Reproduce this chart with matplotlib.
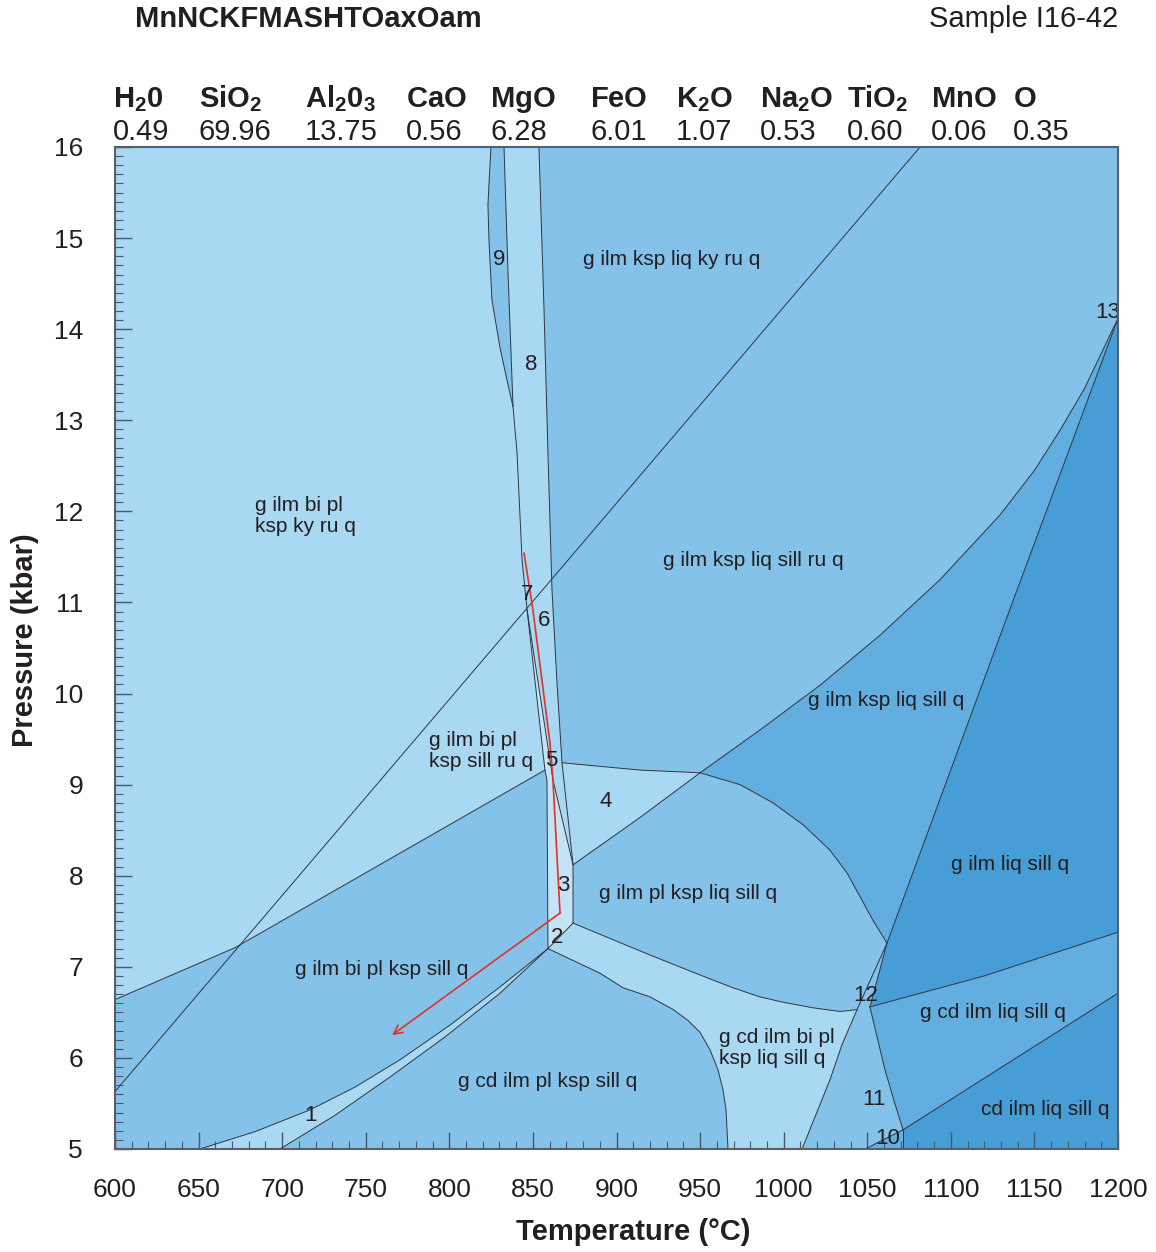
import numpy as np
import matplotlib.pyplot as plt
from matplotlib.ticker import MultipleLocator

plt.rcParams['font.family'] = ['Liberation Sans', 'DejaVu Sans']
plt.rcParams['mathtext.fontset'] = 'custom'
plt.rcParams['mathtext.rm'] = 'Liberation Sans'
plt.rcParams['mathtext.bf'] = 'Liberation Sans:bold'

# field colours
c_light = '#a8d8f2'
c_pale = '#c4e4f5'
c_mid = '#85c2ea'
c_dark = '#63aee0'
c_deep = '#479dd6'
c_line = '#2e3640'
c_text = '#231f20'

# bulk composition (mol %)
oxides = [r'$\mathbf{H_20}$', r'$\mathbf{SiO_2}$', r'$\mathbf{Al_20_3}$', r'$\mathbf{CaO}$',
          r'$\mathbf{MgO}$', r'$\mathbf{FeO}$', r'$\mathbf{K_2O}$', r'$\mathbf{Na_2O}$',
          r'$\mathbf{TiO_2}$', r'$\mathbf{MnO}$', r'$\mathbf{O}$']
amounts = ['0.49', '69.96', '13.75', '0.56', '6.28', '6.01', '1.07', '0.53', '0.60', '0.06', '0.35']
oxide_x = [113, 199, 305, 406, 490, 590, 676, 760, 847, 931, 1013]

# field boundaries, T (°C) and P (kbar)
ky_sill_T = [600, 1081.6]
ky_sill_P = [5.63, 16.0]
ru_out_T = [600, 671.8, 857.2]
ru_out_P = [6.64, 7.21, 9.16]
band_left_T = [832.7, 835.1, 838.1, 840.5, 843.5, 846.5, 857.2, 858.4, 859.0]
band_left_P = [16.0, 14.62, 13.15, 12.64, 11.47, 10.92, 9.16, 9.05, 7.2]
band_right_T = [853.6, 856.6, 859.0, 861.4, 864.4, 867.4, 874.0, 874.0]
band_right_P = [16.0, 14.24, 12.64, 11.14, 10.12, 9.24, 8.12, 7.48]
f9_left_T = [824.9, 823.1, 823.7, 825.5, 830.3, 834.5, 838.1]
f9_left_P = [16.0, 15.37, 14.98, 14.32, 13.80, 13.44, 13.15]
mid_T = [846.5, 862.0, 874.0]
mid_P = [10.92, 9.05, 8.12]
west_T = [859.0, 874.0]
west_P = [7.2, 7.48]
four_top_T = [867.4, 914.1, 950.0]
four_top_P = [9.24, 9.16, 9.13]
four_bot_T = [874.0, 914.1, 950.0]
four_bot_P = [8.12, 8.64, 9.13]
lb_top_T = [874.0, 920.0, 950.0, 969.7, 985.8, 1000.0, 1017.5, 1033.7, 1043.9]
lb_top_P = [7.48, 7.13, 6.91, 6.77, 6.67, 6.61, 6.55, 6.51, 6.53]
lb_bot_T = [859.0, 890.1, 903.9, 920.0, 934.0, 942.8, 950.0, 955.9, 960.7, 963.7, 965.5, 966.7]
lb_bot_P = [7.2, 6.93, 6.77, 6.67, 6.53, 6.41, 6.28, 6.09, 5.87, 5.65, 5.43, 5.0]
l11_T = [1061.8, 1043.9, 1035.0, 1027.7, 1011.0]
l11_P = [7.26, 6.53, 6.15, 5.76, 5.0]
u_T = [950.0, 985.8, 1021.7, 1057.6, 1093.5, 1129.4, 1150.0, 1165.3, 1180.0, 1200]
u_P = [9.13, 9.60, 10.09, 10.64, 11.25, 11.96, 12.45, 12.89, 13.35, 14.12]
arc_T = [950.0, 973.9, 993.6, 1011.6, 1027.7, 1037.9, 1045.7, 1053.4, 1061.8]
arc_P = [9.13, 9.00, 8.80, 8.56, 8.28, 8.03, 7.77, 7.51, 7.26]
dl_T = [1200, 1133.0, 1061.8, 1051.6]
dl_P = [14.12, 10.81, 7.26, 6.56]
db_T = [1051.6, 1120.0, 1200]
db_P = [6.56, 6.90, 7.38]
r11_T = [1051.6, 1056.0, 1060.6, 1066.0, 1071.4]
r11_P = [6.56, 6.22, 5.87, 5.53, 5.21]
cb_T = [1071.4, 1200]
cb_P = [5.21, 6.71]
f10_T = [1048.7, 1071.4, 1071.4]
f10_P = [5.0, 5.21, 5.0]
b1u_T = [650.8, 683.7, 716.7, 743.6, 770.5, 800.4, 830.3, 859.0]
b1u_P = [5.0, 5.19, 5.43, 5.68, 5.98, 6.36, 6.78, 7.2]
b1l_T = [698.7, 731.6, 764.5, 797.4, 830.3, 859.0]
b1l_P = [5.0, 5.37, 5.79, 6.23, 6.71, 7.2]

# P-T path
path_T = [844.7, 850.0, 860.2, 862.0, 866.2, 765.7]
path_P = [11.54, 10.92, 9.46, 9.05, 7.59, 6.25]

fields = [
    ('g ilm ksp liq ky ru q', 933.2, 14.76, 'center'),
    ('g ilm bi pl\nksp ky ru q', 683.7, 11.95, 'left'),
    ('g ilm ksp liq sill ru q', 981.7, 11.46, 'center'),
    ('g ilm ksp liq sill q', 1061.2, 9.92, 'center'),
    ('g ilm bi pl\nksp sill ru q', 787.8, 9.37, 'left'),
    ('g ilm liq sill q', 1135.4, 8.12, 'center'),
    ('g ilm pl ksp liq sill q', 942.8, 7.81, 'center'),
    ('g ilm bi pl ksp sill q', 759.7, 6.97, 'center'),
    ('g cd ilm bi pl\nksp liq sill q', 961.3, 6.11, 'left'),
    ('g cd ilm liq sill q', 1125.2, 6.50, 'center'),
    ('g cd ilm pl ksp sill q', 859.0, 5.74, 'center'),
    ('cd ilm liq sill q', 1156.3, 5.43, 'center'),
]
small = [('9', 829.7, 14.76), ('8', 848.9, 13.61), ('7', 846.5, 11.09), ('6', 856.6, 10.80),
         ('5', 860.8, 9.26), ('4', 893.7, 8.81), ('3', 868.0, 7.89), ('2', 864.4, 7.32),
         ('1', 717.2, 5.37), ('13', 1194.0, 14.18), ('12', 1049.2, 6.69), ('11', 1054.0, 5.54),
         ('10', 1062.4, 5.12)]


def pts(*segs):
    # join (T, P) pieces into one polygon outline
    out = []
    for T, P in segs:
        out += list(zip(T, P))
    return np.array(out)


def rev(T, P):
    return T[::-1], P[::-1]


fig = plt.figure(figsize=(11.56, 12.52), dpi=100)
ax = fig.add_axes([115/1156, 1-1149/1252, 1003/1156, 1002/1252])
ax.set_facecolor(c_light)
ax.set_xlim(600, 1200)
ax.set_ylim(5, 16)

polys = [
    (pts((ru_out_T, ru_out_P), (band_left_T[6:], band_left_P[6:]), (lb_bot_T, lb_bot_P),
         ([600], [5.0])), c_mid),
    (pts((band_right_T, band_right_P), ([874.0, 1200, 1200], [5.0, 5.0, 16.0])), c_mid),
    (pts((f9_left_T, f9_left_P), rev(band_left_T[:3], band_left_P[:3])), c_mid),
    (pts((band_left_T[5:], band_left_P[5:]), ([874.0, 874.0], [7.48, 8.12]), rev(mid_T, mid_P)), c_pale),
    (pts((band_right_T[5:7], band_right_P[5:7]), (four_bot_T, four_bot_P), rev(four_top_T, four_top_P)), c_light),
    (pts((west_T, west_P), (lb_top_T, lb_top_P), (l11_T[1:], l11_P[1:]), rev(lb_bot_T, lb_bot_P)), c_light),
    (pts((b1u_T, b1u_P), rev(b1l_T, b1l_P)), c_light),
    (pts((u_T, u_P), (dl_T[:3], dl_P[:3]), rev(arc_T, arc_P)), c_dark),
    (pts((dl_T, dl_P), (db_T[1:], db_P[1:])), c_deep),
    (pts((db_T, db_P), ([1200], [6.71]), rev(cb_T, cb_P), rev(r11_T, r11_P)), c_dark),
    (pts((cb_T, cb_P), ([1200, 1071.4], [5.0, 5.0])), c_deep),
    (pts((f10_T, f10_P)), c_dark),
]
for xy, col in polys:
    ax.fill(xy[:, 0], xy[:, 1], color=col, lw=0, zorder=1)

lines = [(ky_sill_T, ky_sill_P), (ru_out_T, ru_out_P), (band_left_T, band_left_P),
         (band_right_T, band_right_P), (f9_left_T, f9_left_P), (mid_T, mid_P), (west_T, west_P),
         (four_top_T, four_top_P), (four_bot_T, four_bot_P), (lb_top_T, lb_top_P),
         (lb_bot_T, lb_bot_P), (l11_T, l11_P), (u_T, u_P), (arc_T, arc_P), (dl_T, dl_P),
         (db_T, db_P), (r11_T, r11_P), (cb_T, cb_P), (f10_T[:2], f10_P[:2]), (f10_T[1:], f10_P[1:]),
         (b1u_T, b1u_P), (b1l_T, b1l_P)]
for T, P in lines:
    ax.plot(T, P, color=c_line, lw=0.7, zorder=2, solid_joinstyle='round')

# P-T path
red = '#e0322c'
ax.plot(path_T[:-1], path_P[:-1], color=red, lw=1.2, zorder=3)
ax.annotate('', xy=(path_T[-1], path_P[-1]), xytext=(path_T[-2], path_P[-2]),
            arrowprops=dict(arrowstyle='->', color=red, lw=1.2, mutation_scale=16,
                            shrinkA=0, shrinkB=0), zorder=3)

for s, T, P, ha in fields:
    ax.text(T, P, s, ha=ha, va='center', fontsize=15, color=c_text, zorder=4, linespacing=1.15)
for s, T, P in small:
    ax.text(T, P, s, ha='center', va='center', fontsize=16, color=c_text, zorder=4)

ax.xaxis.set_major_locator(MultipleLocator(50))
ax.xaxis.set_minor_locator(MultipleLocator(10))
ax.yaxis.set_major_locator(MultipleLocator(1))
ax.yaxis.set_minor_locator(MultipleLocator(0.1))
ax.tick_params(which='both', direction='in', color='#4a5868', labelsize=19, labelcolor=c_text)
ax.tick_params(which='major', length=12, width=1.0)
ax.tick_params(which='minor', length=5.5, width=0.8)
ax.tick_params(axis='x', pad=21)
ax.tick_params(axis='y', pad=23)
for sp in ax.spines.values():
    sp.set_color('#55606c')
    sp.set_linewidth(1.5)
    sp.set_zorder(5)

fig.text(633/1156, 1-1232/1252, 'Temperature (°C)', ha='center', va='center',
         fontsize=21, fontweight='bold', color=c_text)
fig.text(25/1156, 1-640/1252, 'Pressure (kbar)', ha='center', va='center', rotation=90,
         fontsize=21, fontweight='bold', color=c_text)
fig.text(135/1156, 1-19/1252, 'MnNCKFMASHTOaxOam', ha='left', va='center',
         fontsize=21, fontweight='bold', color=c_text)
fig.text(1118/1156, 1-19/1252, 'Sample I16-42', ha='right', va='center',
         fontsize=21, color=c_text)

for name, val, x in zip(oxides, amounts, oxide_x):
    fig.text(x/1156, 1-107/1252, name, ha='left', va='baseline', fontsize=21, color=c_text)
    fig.text(x/1156, 1-140/1252, val, ha='left', va='baseline', fontsize=21, color=c_text)

fig.savefig('out.png', dpi=100)
